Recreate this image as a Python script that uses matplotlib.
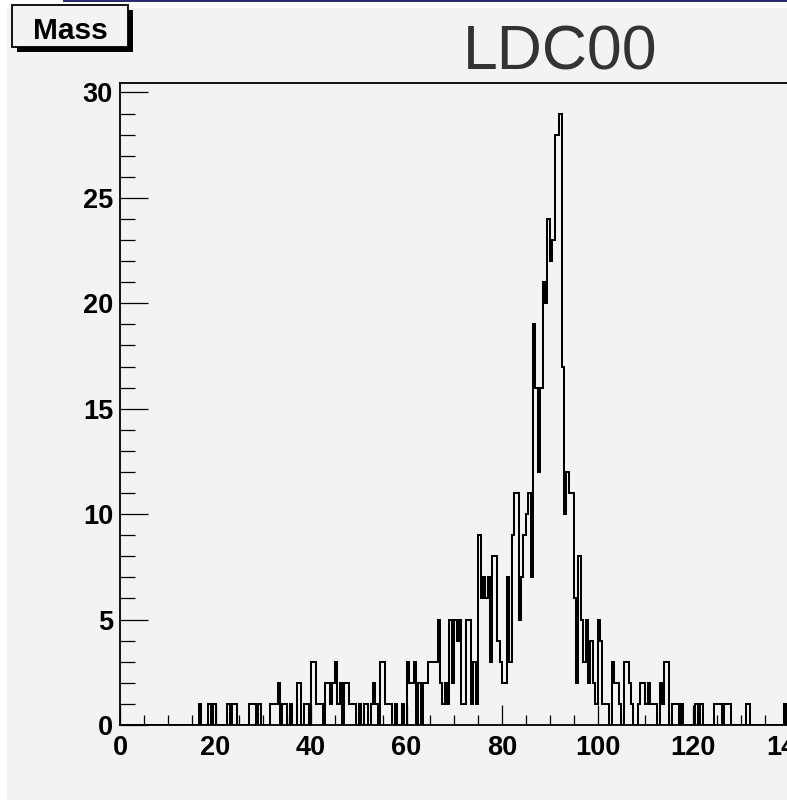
import numpy as np
import matplotlib
matplotlib.use("Agg")
from matplotlib import pyplot as plt
from matplotlib.ticker import MultipleLocator
from matplotlib.patches import Rectangle

# histogram "Mass": 300 bins of 0.5 between 0 and 150
bin_width = 0.5
n_bins = 300
x_min = 0.0

# lower edge of every filled bin and its number of entries
bin_lo = [16.5, 18.5, 19.5, 22.5, 23.5, 24.0, 27.0, 27.5, 28.0, 29.0,
          31.5, 32.0, 32.5, 33.0, 34.0, 34.5, 35.5, 37.0, 37.5, 38.5,
          39.0, 40.0, 40.5, 41.0, 41.5, 42.0, 43.0, 43.5, 44.0, 44.5,
          45.0, 45.5, 46.0, 47.0, 47.5, 48.0, 48.5, 49.0, 50.0, 51.0,
          51.5, 52.5, 53.0, 53.5, 54.5, 55.0, 55.5, 56.0, 56.5, 57.5,
          59.0, 60.0, 60.5, 61.0, 61.5, 62.5, 63.5, 64.0, 64.5, 65.0,
          65.5, 66.0, 66.5, 67.0, 67.5, 68.0, 68.5, 69.0, 69.5, 70.0,
          70.5, 71.0, 71.5, 72.0, 72.5, 73.0, 73.5, 74.0, 74.5, 75.0,
          75.5, 76.0, 76.5, 77.0, 77.5, 78.0, 78.5, 79.0, 79.5, 80.0,
          80.5, 81.0, 81.5, 82.0, 82.5, 83.0, 83.5, 84.0, 84.5, 85.0,
          85.5, 86.0, 86.5, 87.0, 87.5, 88.0, 88.5, 89.0, 89.5, 90.0,
          90.5, 91.0, 91.5, 92.0, 92.5, 93.0, 93.5, 94.0, 94.5, 95.0,
          95.5, 96.0, 96.5, 97.0, 97.5, 98.0, 98.5, 99.0, 99.5, 100.0,
          100.5, 101.0, 101.5, 102.0, 103.0, 103.5, 104.0, 104.5, 105.5, 106.0,
          106.5, 107.0, 108.5, 109.0, 109.5, 110.0, 110.5, 111.0, 111.5, 112.0,
          113.0, 113.5, 114.0, 114.5, 115.5, 116.0, 116.5, 117.5, 120.5, 121.5,
          124.5, 125.0, 125.5, 126.5, 127.0, 127.5, 131.0, 131.5, 139.0]
bin_n = [1, 1, 1, 1, 1, 1, 1, 1, 1, 1,
         1, 1, 1, 2, 1, 1, 1, 2, 2, 1,
         1, 3, 3, 1, 1, 1, 2, 2, 1, 2,
         3, 1, 2, 2, 2, 1, 1, 1, 1, 1,
         1, 1, 2, 1, 3, 3, 1, 1, 1, 1,
         1, 3, 2, 2, 3, 2, 2, 2, 3, 3,
         3, 3, 5, 2, 1, 2, 1, 5, 2, 5,
         4, 5, 1, 1, 5, 5, 1, 3, 1, 9,
         6, 7, 6, 7, 3, 8, 8, 4, 3, 2,
         2, 7, 3, 9, 11, 11, 5, 7, 9, 10,
         11, 7, 19, 16, 12, 16, 21, 20, 24, 22,
         23, 28, 28, 29, 17, 10, 12, 11, 11, 6,
         2, 8, 5, 3, 5, 2, 4, 2, 1, 5,
         4, 1, 1, 1, 3, 2, 2, 1, 3, 3,
         2, 1, 1, 2, 2, 1, 2, 1, 1, 1,
         2, 1, 3, 3, 1, 1, 1, 1, 1, 1,
         1, 1, 1, 1, 1, 1, 1, 1, 1]

edges = x_min + bin_width * np.arange(n_bins + 1)
counts = np.zeros(n_bins)
for lo, n in zip(bin_lo, bin_n):
    counts[int(round((lo - x_min) / bin_width))] = n

W, H = 787, 800
bg = "#f3f3f3"
plt.rcParams["font.family"] = ["Liberation Sans", "DejaVu Sans"]

fig = plt.figure(figsize=(W / 100, H / 100), dpi=100, facecolor="white")

def px(x, y):
    # pixel position from top-left -> figure fraction
    return x / W, 1 - y / H

# canvas background and window border line
fig.patches.append(Rectangle(px(7, H), 1, (H - 8) / H, transform=fig.transFigure,
                             facecolor=bg, edgecolor="none", zorder=-10))
fig.patches.append(Rectangle(px(63, 1.5), 1, 1.5 / H, transform=fig.transFigure,
                             facecolor="#2b2b6b", edgecolor="none", zorder=-9))

# frame: x=0 at 120 px, 4.775 px per unit, y=0 at 725 px, top at 83 px
ax = fig.add_axes([120 / W, 75 / H, 150 * 4.775 / W, (725 - 83) / H])
ax.set_facecolor(bg)
ax.stairs(counts, edges, color="black", linewidth=1.45)
ax.set_xlim(0, 150)
ax.set_ylim(0, 30.45)

ax.xaxis.set_major_locator(MultipleLocator(20))
ax.xaxis.set_minor_locator(MultipleLocator(5))
ax.yaxis.set_major_locator(MultipleLocator(5))
ax.yaxis.set_minor_locator(MultipleLocator(1))
ax.tick_params(axis="x", which="major", direction="in", length=14.4, width=0.9, pad=7,
               labelsize=19.5, top=False)
ax.tick_params(axis="x", which="minor", direction="in", length=7.2, width=0.9, top=False)
ax.tick_params(axis="y", which="major", direction="in", length=20, width=0.9, pad=5,
               labelsize=19.5, right=False)
ax.tick_params(axis="y", which="minor", direction="in", length=10.8, width=0.9, right=False)
for lab in ax.get_xticklabels() + ax.get_yticklabels():
    lab.set_fontweight("bold")
for sp in ax.spines.values():
    sp.set_linewidth(1.3)
    sp.set_color("black")

# title box with shadow
fig.patches.append(Rectangle(px(17, 52), 116 / W, 42 / H, transform=fig.transFigure,
                             facecolor="black", edgecolor="none", zorder=3))
fig.patches.append(Rectangle(px(12, 47), 116 / W, 42 / H, transform=fig.transFigure,
                             facecolor=bg, edgecolor="black", linewidth=1.3, zorder=4))
fig.text(*px(70, 31), "Mass", fontsize=21.5, fontweight="bold", ha="center", va="center",
         zorder=5)

fig.text(*px(560, 70), "LDC00", fontsize=45, color="#333333", ha="center", va="baseline")

plt.savefig("out.png", dpi=100, facecolor=fig.get_facecolor())
